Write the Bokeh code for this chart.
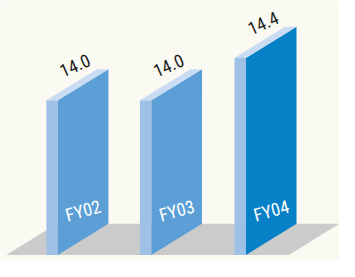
from bokeh.plotting import figure
from bokeh.models import ColumnDataSource, Range1d
from bokeh.core.properties import value
from bokeh.embed import file_html
from bokeh.resources import INLINE

# ---- data ----
categories = ["FY02", "FY03", "FY04"]
values = [14.0, 14.0, 14.4]
value_labels = ["14.0", "14.0", "14.4"]
highlight = [False, False, True]

# ---- layout / style (x in pixels, y in value units) ----
BASE = 12.542          # value at floor front edge
PX = 112.5             # pixels per value unit
bar_left = [48, 146, 245]
FRONT_W = 12
DEPTH_X = 53
DEPTH_Y = 33 / PX
FLOOR_X0, FLOOR_X1 = 6, 302

BG = "#faf9f2"
FRONT = "#9fc1e6"
TOP = "#c9dcf4"
SIDE = "#5b9fd6"
SIDE_HI = "#0680c6"
FLOOR = "#cbcbcb"
FONT = "Roboto Condensed, Roboto, sans-serif"

p = figure(width=339, height=261, output_backend="svg", toolbar_location=None,
           x_range=Range1d(0, 355),
           y_range=Range1d(BASE - 7 / PX, BASE + 270 / PX),
           min_border=0, background_fill_color=BG, border_fill_color=BG)
p.axis.visible = False
p.grid.visible = False
p.outline_line_color = None

# floor
p.patch([FLOOR_X0, FLOOR_X1, FLOOR_X1 + DEPTH_X, FLOOR_X0 + DEPTH_X],
        [BASE, BASE, BASE + DEPTH_Y, BASE + DEPTH_Y],
        fill_color=FLOOR, line_color=None)

front_src = ColumnDataSource(dict(
    left=bar_left, right=[x + FRONT_W for x in bar_left],
    top=values, bottom=[BASE] * len(values)))
p.quad(left="left", right="right", top="top", bottom="bottom", source=front_src,
       fill_color=FRONT, line_color=None)

side_xs, side_ys, top_xs, top_ys, side_cols = [], [], [], [], []
for xl, v, hi in zip(bar_left, values, highlight):
    xr = xl + FRONT_W
    side_xs.append([xr, xr, xr + DEPTH_X, xr + DEPTH_X])
    side_ys.append([BASE, v, v + DEPTH_Y, BASE + DEPTH_Y])
    top_xs.append([xl, xr, xr + DEPTH_X, xl + DEPTH_X])
    top_ys.append([v, v, v + DEPTH_Y, v + DEPTH_Y])
    side_cols.append(SIDE_HI if hi else SIDE)

p.patches(xs="xs", ys="ys", fill_color="c", line_color=None,
          source=ColumnDataSource(dict(xs=side_xs, ys=side_ys, c=side_cols)))
p.patches(top_xs, top_ys, fill_color=TOP, line_color=None)

# value labels
p.text(x=[x + 30 for x in bar_left], y=[v + 37 / PX for v in values], text=value_labels,
       text_font=value(FONT), text_font_size="18px", text_color="#1a1a1a",
       text_align="center", text_baseline="middle", angle=0.42)

# category labels
p.text(x=[x + 38.5 for x in bar_left], y=[BASE + 47 / PX] * len(values), text=categories,
       text_font=value(FONT), text_font_size="18px", text_color="#ffffff",
       text_align="center", text_baseline="middle", angle=0.27)

open("out.html", "w").write(file_html(p, INLINE))
